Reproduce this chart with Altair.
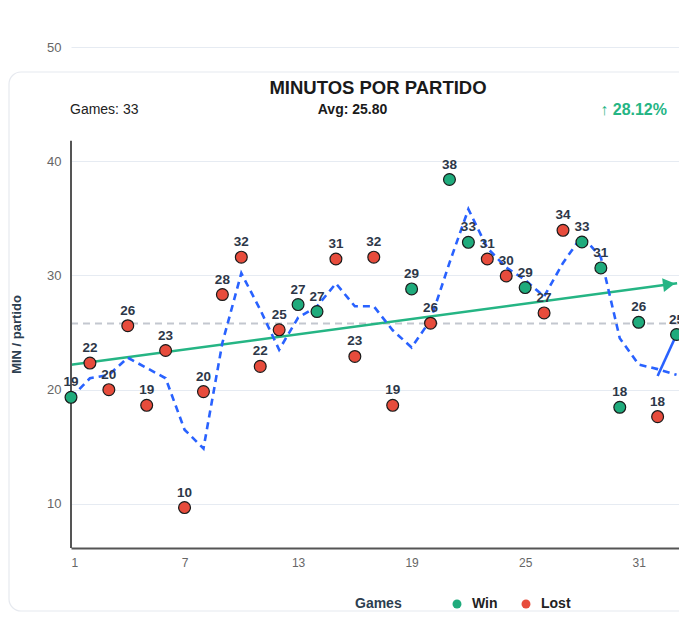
import altair as alt
import pandas as pd

# ---- data ----
games = list(range(1, 34))
minutes = [19.33, 22.33, 20.0, 25.6, 18.63, 23.43, 9.68, 19.83, 28.33, 31.6,
           22.04, 25.24, 27.45, 26.84, 31.44, 22.91, 31.6, 18.63, 28.82, 25.82,
           38.4, 32.9, 31.44, 29.96, 28.94, 26.72, 33.95, 32.93, 30.66, 18.46,
           25.9, 17.64, 24.83]
results = ["Win", "Lost", "Lost", "Lost", "Lost", "Lost", "Lost", "Lost", "Lost", "Lost",
           "Lost", "Lost", "Win", "Win", "Lost", "Lost", "Lost", "Lost", "Win", "Lost",
           "Win", "Win", "Lost", "Lost", "Win", "Lost", "Lost", "Win", "Win", "Win",
           "Win", "Lost", "Win"]
labels = ["19", "22", "20", "26", "19", "23", "10", "20", "28", "32",
          "22", "25", "27", "27", "31", "23", "32", "19", "29", "26",
          "38", "33", "31", "30", "29", "27", "34", "33", "31", "18",
          "26", "18", "25"]
# moving average (dashed blue) as read
ma_values = [19.3, 21.0, 21.3, 22.8, 21.9, 21.0, 16.5, 14.85, 24.1, 30.2,
             27.0, 23.5, 26.3, 27.3, 29.3, 27.3, 27.3, 25.2, 23.7, 26.1,
             31.1, 35.8, 32.4, 30.7, 29.6, 28.15, 31.1, 33.45, 31.6, 24.5,
             22.2, 21.8, 21.3]
last_seg_games = [32, 33]
last_seg_values = [21.2, 24.83]
trend_games = [1, 33.03]
trend_values = [22.18, 29.32]
avg_value = 25.80
y_ticks = [10, 20, 30, 40, 50]
x_ticks = [1, 7, 13, 19, 25, 31]

GREEN = "#1fab7c"
TREND = "#25b584"
RED = "#e74c3c"
BLUE = "#2962ff"
FONT = "Liberation Sans"

W, H = 608, 501

xs = alt.Scale(domain=[1, 33.13], nice=False, zero=False)
ys = alt.Scale(domain=[6.14, 50], nice=False, zero=False)

pts = pd.DataFrame({"game": games, "min": minutes, "res": results, "lab": labels})
ma = pd.DataFrame({"game": games, "min": ma_values})
seg = pd.DataFrame({"game": last_seg_games, "min": last_seg_values})
trend = pd.DataFrame({"game": trend_games, "min": trend_values})
one = pd.DataFrame({"a": [0]})

x_axis = alt.Axis(values=x_ticks, format="d", grid=False, ticks=False, domain=True,
                  domainColor="#555555", domainWidth=2, labelColor="#666666",
                  labelFontSize=12, labelPadding=9, labelFont=FONT, title=None)
y_axis = alt.Axis(values=y_ticks, grid=True, gridColor="#e6ebf2", gridWidth=1,
                  ticks=False, domain=False, labelColor="#666666", labelFontSize=13,
                  labelPadding=10, labelFont=FONT, title="MIN / partido",
                  titleFont=FONT, titleFontSize=13, titleFontWeight="bold",
                  titleColor="#2c3e50", titleAngle=270, titleX=-55, titleY=287,
                  titleAlign="center", titleBaseline="middle")

X = alt.X("game:Q", scale=xs, axis=x_axis)
Y = alt.Y("min:Q", scale=ys, axis=y_axis)

card = alt.Chart(one).mark_rect(
    fill="white", fillOpacity=0, stroke="#e6e9ef", strokeWidth=1.2, cornerRadius=12
).encode(x=alt.value(-62), x2=alt.value(W + 40), y=alt.value(25), y2=alt.value(564))

yline = alt.Chart(pd.DataFrame({"game": [1], "min": [41.8], "bot": [6.14]})).mark_rule(
    color="#555555", strokeWidth=2
).encode(x=X, y=Y, y2="bot:Q")

avg = alt.Chart(pd.DataFrame({"min": [avg_value]})).mark_rule(
    color="#c3c7cf", strokeWidth=2, strokeDash=[7, 5]
).encode(y=Y, x=alt.value(0), x2=alt.value(W))

trend_line = alt.Chart(trend).mark_line(color=TREND, strokeWidth=2.5).encode(x=X, y=Y)

arrow = alt.Chart(pd.DataFrame({"game": [32.6], "min": [29.22]})).mark_point(
    shape="triangle-right", filled=True, color=TREND, size=190, angle=352.4, opacity=1
).encode(x=X, y=Y)

ma_line = alt.Chart(ma).mark_line(
    color=BLUE, strokeWidth=2.6, strokeDash=[7, 5]
).encode(x=X, y=Y)

seg_line = alt.Chart(seg).mark_line(color=BLUE, strokeWidth=2.6).encode(x=X, y=Y)

points = alt.Chart(pts).mark_point(
    filled=True, size=140, stroke="#1a1a1a", strokeWidth=1.2, opacity=1
).encode(
    x=X, y=Y,
    color=alt.Color("res:N", scale=alt.Scale(domain=["Win", "Lost"], range=[GREEN, RED]),
                    legend=alt.Legend(
                        title="Games", orient="none", legendX=284, legendY=550,
                        direction="horizontal", titleOrient="left",
                        titleFont=FONT, titleFontSize=14, titleFontWeight="bold",
                        titleColor="#2c3e50", titlePadding=48,
                        labelFont=FONT, labelFontSize=14, labelFontWeight="bold",
                        labelColor="#222222", symbolType="circle", symbolSize=80,
                        symbolStrokeWidth=0, labelOffset=8, columnPadding=21)),
)

point_labels = alt.Chart(pts).mark_text(
    font=FONT, fontSize=13.5, fontWeight="bold", color="#2d3748", dy=-15
).encode(x=X, y=Y, text="lab:N")

title = alt.Chart(one).mark_text(
    text="MINUTOS POR PARTIDO", font=FONT, fontSize=18.5, fontWeight="bold",
    color="#1a1a1a", align="center", baseline="middle"
).encode(x=alt.value(307), y=alt.value(41))

games_txt = alt.Chart(one).mark_text(
    text="Games: 33", font=FONT, fontSize=14, color="#222222", align="left",
    baseline="middle"
).encode(x=alt.value(-1), y=alt.value(63))

avg_txt = alt.Chart(one).mark_text(
    text="Avg: 25.80", font=FONT, fontSize=14, fontWeight="bold", color="#1a1a1a",
    align="center", baseline="middle"
).encode(x=alt.value(281.5), y=alt.value(63))

pct_txt = alt.Chart(one).mark_text(
    text="↑ 28.12%", font=FONT, fontSize=16, fontWeight="bold", color=TREND,
    align="right", baseline="middle"
).encode(x=alt.value(596), y=alt.value(63))

chart = alt.layer(
    card, avg, trend_line, arrow, ma_line, seg_line, yline,
    points, point_labels, title, games_txt, avg_txt, pct_txt
).properties(
    width=W, height=H,
    autosize=alt.AutoSizeParams(type="none"),
    padding={"left": 63, "top": 39, "right": 0, "bottom": 64},
    background="white",
).configure_view(stroke=None)

chart.save("out.html", embed_options={"renderer": "svg", "actions": False})
